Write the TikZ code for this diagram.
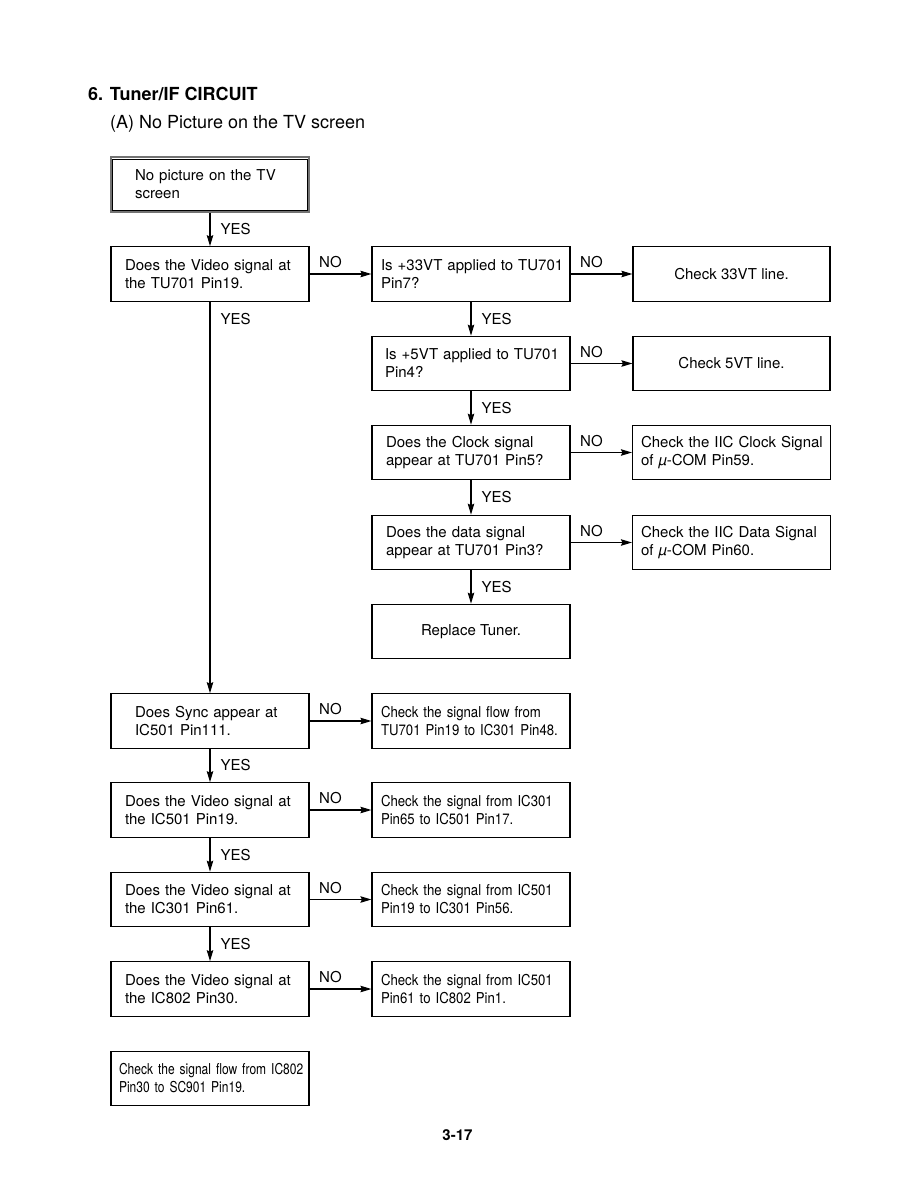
\documentclass[tikz,border=0pt]{standalone}
\usepackage{fontspec}
\setmainfont{TeX Gyre Heros}
\newfontfamily\narrowfont{TeX Gyre Heros}[FakeStretch=0.88,WordSpace=0.85]
\newfontfamily\narrowerfont{TeX Gyre Heros}[FakeStretch=0.8,WordSpace=0.8]
\newcommand\oneline[1]{\mbox{#1}}
\newcommand\micro{{\itshape µ}}
\usetikzlibrary{arrows.meta}
\begin{document}
\begin{tikzpicture}[x=1pt,y=-1pt,
  every node/.style={font=\fontsize{15}{18}\selectfont},
  box/.style 2 args={draw, line width=1.2pt, rectangle, minimum width=198pt, minimum height=54.5pt,
    inner xsep=#1, inner ysep=0pt, text width=#2, align=left},
  cbox/.style={draw, line width=1.2pt, rectangle, minimum width=#1, minimum height=54.5pt,
    inner sep=0pt, align=center},
  cbox/.default=197pt,
  nbox/.style={box={9pt}{180pt}, font=\narrowfont\fontsize{15}{18}\selectfont},
  startbox/.style={box={24pt}{150pt}, draw=black!55, line width=1.6pt},
  arr/.style={line width=1.2pt, -{Stealth[length=11pt,width=6.5pt,inset=1.5pt]}},
  yes/.style={anchor=west, inner sep=0pt, xshift=10pt},
  no/.style={anchor=base west, inner sep=0pt, xshift=9pt, yshift=6.5pt, pos=0}
]
\useasboundingbox (0,0) rectangle (915,1191);

\node[anchor=west, inner sep=0pt, font=\fontsize{18}{22}\selectfont\bfseries] (title) at (88,94) {6. Tuner/IF CIRCUIT};
\node[anchor=west, inner sep=0pt, font=\fontsize{18}{22}\selectfont] (sub) at (110,124) {(A) No Picture on the TV screen};

\node[startbox] (start) at (210,184.5) {\oneline{No picture on the TV}\\\oneline{screen}};
\draw[line width=0.9pt] ([xshift=2.6pt,yshift=-2.6pt]start.north west) rectangle ([xshift=-2.6pt,yshift=2.6pt]start.south east);
\node[box={14pt}{170pt}] (b1) at (210,274) {\oneline{Does the Video signal at}\\\oneline{the TU701 Pin19.}};
\node[box={9pt}{180pt}] (m1) at (471,274) {\oneline{Is +33VT applied to TU701}\\\oneline{Pin7?}};
\node[cbox] (r1) at (731.5,274) {Check 33VT line.};
\node[box={13pt}{172pt}] (m2) at (471,363.5) {\oneline{Is +5VT applied to TU701}\\\oneline{Pin4?}};
\node[cbox] (r2) at (731.5,363.5) {Check 5VT line.};
\node[box={14pt}{170pt}] (m3) at (471,452.5) {\oneline{Does the Clock signal}\\\oneline{appear at TU701 Pin5?}};
\node[box={8pt}{181pt}] (r3) at (731.5,452.5) {\oneline{Check the IIC Clock Signal}\\\oneline{of \micro-COM Pin59.}};
\node[box={14pt}{170pt}] (m4) at (471,542.5) {\oneline{Does the data signal}\\\oneline{appear at TU701 Pin3?}};
\node[box={8pt}{181pt}] (r4) at (731.5,542.5) {\oneline{Check the IIC Data Signal}\\\oneline{of \micro-COM Pin60.}};
\node[cbox=198pt] (m5) at (471,631.5) {Replace Tuner.};

\node[box={24pt}{150pt}] (sync) at (210,721) {\oneline{Does Sync appear at}\\\oneline{IC501 Pin111.}};
\node[nbox] (n1) at (471,721) {\oneline{Check the signal flow from}\\\oneline{TU701 Pin19 to IC301 Pin48.}};
\node[box={14pt}{170pt}] (b3) at (210,810) {\oneline{Does the Video signal at}\\\oneline{the IC501 Pin19.}};
\node[nbox] (n2) at (471,810) {\oneline{Check the signal from IC301}\\\oneline{Pin65 to IC501 Pin17.}};
\node[box={14pt}{170pt}] (b4) at (210,899.5) {\oneline{Does the Video signal at}\\\oneline{the IC301 Pin61.}};
\node[nbox] (n3) at (471,899.5) {\oneline{Check the signal from IC501}\\\oneline{Pin19 to IC301 Pin56.}};
\node[box={14pt}{170pt}] (b5) at (210,989) {\oneline{Does the Video signal at}\\\oneline{the IC802 Pin30.}};
\node[nbox] (n4) at (471,989) {\oneline{Check the signal from IC501}\\\oneline{Pin61 to IC802 Pin1.}};
\node[box={8pt}{182pt}, font=\narrowerfont\fontsize{15}{18}\selectfont] (fin) at (210,1078.5) {\oneline{Check the signal flow from IC802}\\\oneline{Pin30 to SC901 Pin19.}};

\node[font=\fontsize{15}{18}\selectfont\bfseries] (pg) at (457.5,1135) {3-17};

% vertical YES arrows
\draw[arr] (start) -- node[yes] {YES} (b1);
\draw[arr] (b1) -- node[yes, pos=0.043] {YES} (sync);
\draw[arr] (m1) -- node[yes] {YES} (m2);
\draw[arr] (m2) -- node[yes] {YES} (m3);
\draw[arr] (m3) -- node[yes] {YES} (m4);
\draw[arr] (m4) -- node[yes] {YES} (m5);
\draw[arr] (sync) -- node[yes] {YES} (b3);
\draw[arr] (b3) -- node[yes] {YES} (b4);
\draw[arr] (b4) -- node[yes] {YES} (b5);

% horizontal NO arrows
\draw[arr] (b1) -- node[no] {NO} (m1);
\draw[arr] (m1) -- node[no] {NO} (r1);
\draw[arr] (m2) -- node[no] {NO} (r2);
\draw[arr] (m3) -- node[no] {NO} (r3);
\draw[arr] (m4) -- node[no] {NO} (r4);
\draw[arr] (sync) -- node[no] {NO} (n1);
\draw[arr] (b3) -- node[no] {NO} (n2);
\draw[arr] (b4) -- node[no] {NO} (n3);
\draw[arr] (b5) -- node[no] {NO} (n4);
\end{tikzpicture}
\end{document}
